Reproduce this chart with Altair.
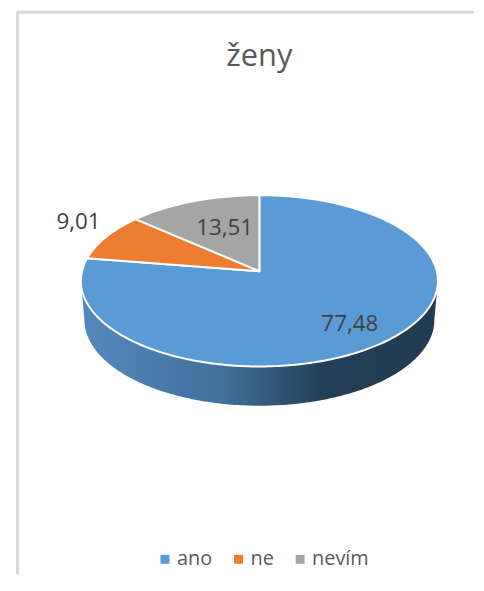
import numpy as np
import altair as alt

CATEGORIES = ["ano", "ne", "nevím"]
VALUES = [77.48, 9.01, 13.51]
LABELS = ["77,48", "9,01", "13,51"]
COLORS = ["#5B9BD5", "#ED7D31", "#A5A5A5"]

W, H = 460, 566
CX, CY = 244, 261            # apex of the pie in view pixels
A, B, K = 178.5, 85.1, 0.113
DEPTH = 39.5


def project(theta):
    u, v = np.sin(theta), np.cos(theta)
    d = 1 + K * v
    return A * u / d, B * v / d


def to_view(x, y):
    return [[float(a), float(b)] for a, b in zip(x, y)]


def feature(ring, **props):
    return {"type": "Feature", "properties": props,
            "geometry": {"type": "Polygon", "coordinates": [ring]}}


def wedge(start, end, name):
    t = np.linspace(start, end, max(3, int(abs(end - start) * 60)))
    x, y = project(t)
    ring = [[0.0, 0.0]] + to_view(x, y) + [[0.0, 0.0]]
    return feature(ring, cat=name)


fractions = np.array(VALUES) / sum(VALUES)
t0 = 0.0
wedges = []
for name, f in zip(CATEGORIES, fractions):
    t1 = t0 + 2 * np.pi * f
    wedges.append(wedge(t0, t1, name))
    t0 = t1

# side wall
t = np.linspace(np.pi * 0.5 + 0.113, np.pi * 1.5 - 0.113, 200)
tx, ty = project(t)
bx, by = tx[::-1] * 0.98, ty[::-1] - DEPTH
wall_ring = to_view(tx, ty) + to_view(bx, by)
wall_ring.append(wall_ring[0])
wall = feature(wall_ring, cat="wall")

PROJ = dict(type="identity", scale=1, translate=[CX, CY], reflectY=True)

frame_left = alt.Chart(alt.Data(values=[{"a": 1}])).mark_rule(
    color="#D9D9D9", strokeWidth=3
).encode(x=alt.value(0.5), y=alt.value(0), y2=alt.value(H))
frame_top = alt.Chart(alt.Data(values=[{"a": 1}])).mark_rule(
    color="#D9D9D9", strokeWidth=3
).encode(y=alt.value(0.5), x=alt.value(0), x2=alt.value(W))

wall_layer = alt.Chart(alt.Data(values=[wall])).mark_geoshape(
    fill=alt.Gradient(
        gradient="linear", x1=0, x2=1, y1=0, y2=0,
        stops=[
            alt.GradientStop(offset=0, color="#5489BC"),
            alt.GradientStop(offset=0.4, color="#41709B"),
            alt.GradientStop(offset=0.68, color="#233E56"),
            alt.GradientStop(offset=1, color="#213B52"),
        ],
    ),
    strokeWidth=0,
).project(**PROJ)

pie_layer = alt.Chart(alt.Data(values=wedges)).mark_geoshape(
    stroke="white", strokeWidth=2, strokeJoin="round"
).encode(
    color=alt.Color(
        "properties.cat:N",
        scale=alt.Scale(domain=CATEGORIES, range=COLORS),
        legend=alt.Legend(
            title=None, orient="none", direction="horizontal",
            legendX=139, legendY=541, symbolType="square", symbolSize=81,
            labelFont="Open Sans", labelFontSize=20, labelColor="#595959",
            columnPadding=16, symbolStrokeWidth=0, labelOffset=2,
        ),
    )
).project(**PROJ)

label_rows = [
    {"label": LABELS[0], "px": 335, "py": 314},
    {"label": LABELS[1], "px": 62, "py": 212},
    {"label": LABELS[2], "px": 209, "py": 218},
]
text_layer = alt.Chart(alt.Data(values=label_rows)).mark_text(
    font="Open Sans", fontSize=22.5, color="#404040", align="center", baseline="middle"
).encode(x=alt.X("px:Q", scale=None), y=alt.Y("py:Q", scale=None), text="label:N")

chart = alt.layer(frame_left, frame_top, wall_layer, pie_layer, text_layer).properties(
    width=W, height=H,
    padding={"left": 7, "top": 0, "right": 0, "bottom": 0},
    title=alt.TitleParams(
        text="ženy", anchor="middle", font="Open Sans", fontSize=31,
        fontWeight="normal", color="#595959", offset=-63, dx=14,
    ),
).configure_view(stroke=None)

chart.save("out.html", embed_options={"renderer": "svg", "actions": False})
